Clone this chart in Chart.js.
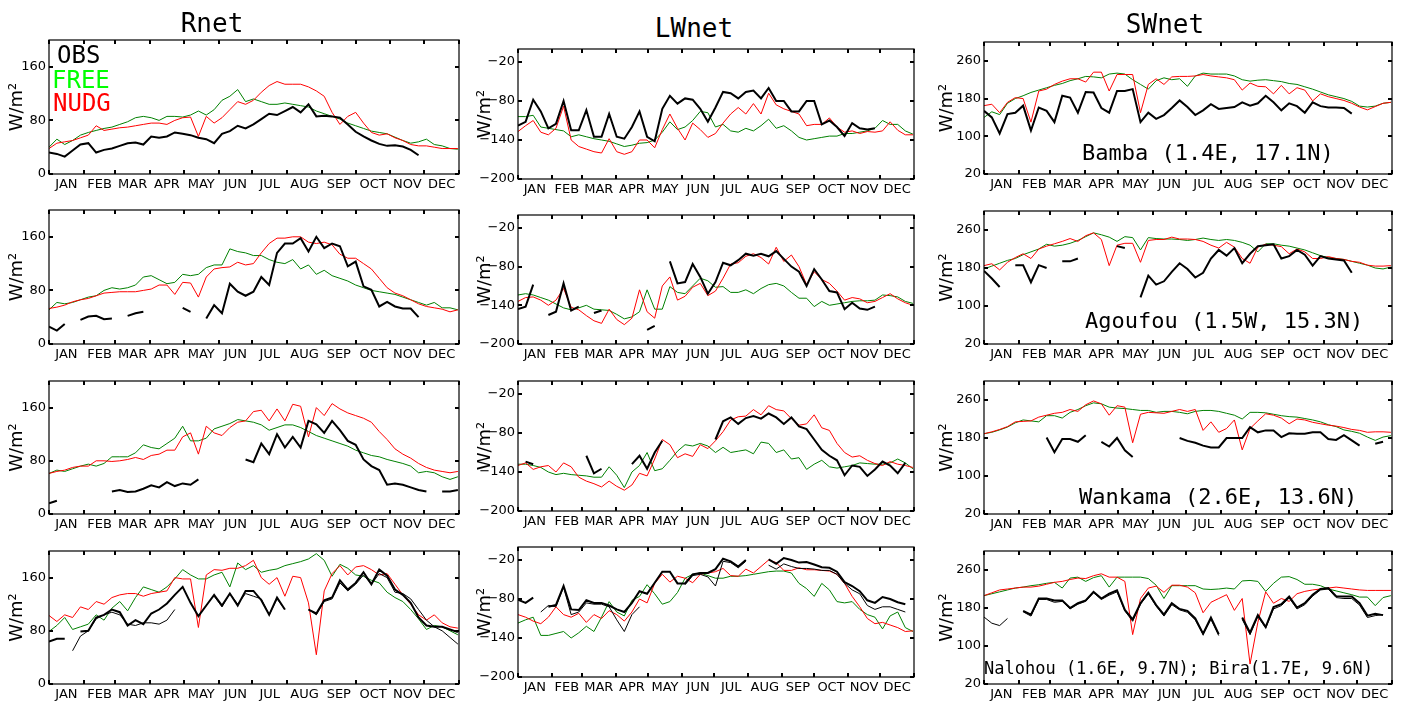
<!DOCTYPE html>
<html lang="en">
<head>
<meta charset="utf-8">
<title>Rnet / LWnet / SWnet</title>
<script src="https://cdn.jsdelivr.net/npm/chart.js"></script>
<style>
  body { margin: 0; background: #fff; width: 1406px; height: 703px; position: relative; overflow: hidden; }
  canvas { position: absolute; }
  .txt { position: absolute; white-space: nowrap; font-family: "DejaVu Sans Mono", monospace; }
</style>
</head>
<body>
<script>
// x positions (day of year) shared by every series, roughly weekly
const days = [0, 7, 14, 21, 28, 35, 42, 49, 56, 63, 70, 77, 84, 91, 98, 105, 112, 119, 126, 133,
  140, 147, 154, 161, 168, 175, 182, 189, 196, 203, 210, 217, 224, 231, 238, 245, 252, 259, 266, 273,
  280, 287, 294, 301, 308, 315, 322, 329, 336, 343, 350, 357, 364];
const monthEdges = [0, 31, 59, 90, 120, 151, 181, 212, 243, 273, 304, 334, 365];
const monthMids = [15.5, 45, 74.5, 105, 135.5, 166, 196.5, 227.5, 258, 288.5, 319, 349.5];
const monthNames = ['JAN', 'FEB', 'MAR', 'APR', 'MAY', 'JUN', 'JUL', 'AUG', 'SEP', 'OCT', 'NOV', 'DEC'];
const rnetTicks = [0, 80, 160];
const lwTicks = [-200, -140, -80, -20];
const swTicks = [20, 100, 180, 260];
const columnTitles = ['Rnet', 'LWnet', 'SWnet'];
const seriesNames = ['OBS', 'FREE', 'NUDG'];
const siteLabels = ['Bamba (1.4E, 17.1N)', 'Agoufou (1.5W, 15.3N)', 'Wankama (2.6E, 13.6N)',
  'Nalohou (1.6E, 9.7N); Bira(1.7E, 9.6N)'];

// ---- Bamba ----
const bambaRnObs = [32, 30, 26, 35, 44, 46, 32, 36, 38, 42, 46, 47, 44, 56, 54, 56, 62, 60, 58, 54,
  52, 46, 60, 64, 72, 68, 74, 82, 90, 88, 94, 100, 92, 104, 86, 87, 86, 84, 74, 63,
  56, 50, 45, 42, 43, 41, 36, 28, null, null, null, null, null];
const bambaRnFree = [40, 52, 44, 50, 58, 62, 65, 68, 70, 74, 78, 84, 86, 84, 80, 86, 86, 85, 88, 94,
  88, 96, 110, 116, 126, 108, 112, 108, 104, 104, 106, 104, 102, 100, 94, 90, 86, 82, 76, 72,
  68, 64, 62, 60, 55, 50, 46, 48, 52, 44, 42, 38, 37];
const bambaRnNudg = [38, 46, 48, 50, 54, 58, 72, 65, 67, 69, 70, 72, 74, 76, 76, 74, 80, 84, 85, 56,
  86, 76, 84, 96, 108, 104, 110, 122, 132, 138, 134, 134, 134, 130, 124, 116, 92, 74, 86, 92,
  76, 62, 58, 60, 54, 50, 44, 42, 42, 40, 38, 38, 38];
const bambaLwObs = [-118, -112, -78, -96, -122, -115, -80, -125, -125, -94, -135, -135, -100, -135, -138, -120, -96, -135, -142, -92,
  -72, -84, -76, -78, -92, -112, -90, -66, -68, -76, -66, -64, -76, -60, -80, -80, -96, -96, -80, -80,
  -116, -110, -120, -134, -114, -122, -124, -122, null, null, null, null, null];
const bambaLwFree = [-104, -104, -102, -120, -122, -124, -126, -135, -132, -135, -138, -140, -142, -146, -150, -148, -145, -144, -140, -128,
  -112, -124, -120, -110, -96, -98, -120, -116, -126, -128, -122, -126, -118, -108, -122, -118, -126, -136, -140, -138,
  -136, -134, -134, -130, -130, -128, -126, -122, -110, -116, -116, -126, -131];
const bambaLwNudg = [-127, -118, -110, -128, -132, -122, -88, -140, -150, -154, -158, -160, -138, -158, -162, -158, -140, -140, -152, -124,
  -100, -122, -140, -114, -124, -136, -130, -114, -100, -90, -100, -84, -100, -68, -86, -92, -96, -100, -118, -116,
  -116, -106, -120, -128, -126, -130, -127, -128, -126, -112, -125, -132, -132];
const bambaSwObs = [154, 140, 106, 147, 150, 165, 112, 161, 154, 130, 186, 182, 150, 194, 193, 160, 150, 196, 196, 200,
  130, 150, 137, 145, 160, 176, 162, 145, 155, 168, 158, 160, 162, 172, 165, 170, 186, 172, 155, 170,
  164, 150, 172, 164, 161, 161, 160, 148, null, null, null, null, null];
const bambaSwFree = [140, 152, 146, 170, 180, 186, 193, 198, 203, 208, 212, 218, 222, 227, 226, 224, 232, 234, 232, 220,
  210, 200, 218, 224, 220, 222, 206, 228, 234, 232, 232, 232, 228, 220, 217, 219, 220, 218, 216, 212,
  210, 205, 200, 194, 188, 184, 180, 174, 164, 162, 164, 170, 172];
const bambaSwNudg = [165, 168, 150, 172, 182, 180, 130, 196, 200, 210, 217, 222, 222, 215, 236, 236, 196, 231, 231, 231,
  150, 210, 222, 210, 226, 227, 227, 228, 231, 228, 226, 224, 220, 198, 213, 206, 205, 190, 208, 190,
  203, 198, 175, 190, 184, 180, 176, 170, 162, 156, 163, 170, 172];

// ---- Agoufou ----
const agoufouRnObs = [26, 20, 30, null, 36, 41, 42, 37, 38, null, 42, 46, 48, null, null, null, null, 54, 48, null,
  38, 58, 46, 90, 78, 72, 78, 100, 88, 136, 150, 150, 158, 138, 160, 143, 150, 146, 116, 123,
  86, 81, 56, 63, 56, 53, 53, 40, null, null, null, null, null];
const agoufouRnFree = [51, 62, 60, 62, 66, 70, 72, 80, 84, 82, 84, 88, 100, 102, 96, 90, 92, 104, 102, 104,
  114, 118, 118, 142, 138, 136, 132, 132, 126, 122, 120, 126, 112, 118, 104, 110, 102, 98, 94, 88,
  84, 80, 78, 76, 74, 70, 66, 62, 58, 62, 54, 54, 51];
const agoufouRnNudg = [53, 55, 58, 63, 66, 68, 72, 76, 77, 78, 78, 78, 80, 82, 88, 88, 74, 92, 91, 70,
  100, 112, 114, 115, 122, 118, 120, 136, 150, 158, 158, 160, 160, 152, 150, 152, 148, 134, 128, 128,
  120, 112, 98, 84, 76, 72, 66, 60, 56, 54, 52, 48, 51];
const agoufouLwObs = [-146, -142, -108, null, -155, -150, -106, -148, -142, null, -152, -148, null, null, null, null, null, -178, -172, null,
  -72, -106, -104, -76, -96, -122, -104, -74, -78, -70, -60, -63, -60, -64, -56, -68, -80, -88, -110, -84,
  -100, -118, -120, -146, -136, -145, -147, -142, null, null, null, null, null];
const agoufouLwFree = [-124, -122, -124, -128, -132, -138, -144, -147, -144, -140, -146, -147, -148, -154, -161, -158, -150, -116, -146, -146,
  -111, -120, -122, -110, -98, -102, -112, -111, -120, -120, -116, -122, -114, -108, -106, -110, -120, -129, -129, -142,
  -134, -140, -138, -136, -134, -133, -133, -132, -124, -125, -127, -134, -137];
const agoufouLwNudg = [-134, -128, -127, -132, -140, -132, -114, -143, -147, -156, -164, -168, -146, -162, -170, -160, -116, -150, -160, -110,
  -96, -132, -126, -112, -106, -125, -118, -98, -76, -74, -64, -60, -66, -76, -50, -72, -62, -80, -108, -88,
  -100, -106, -118, -132, -128, -130, -136, -134, -128, -122, -130, -136, -140];
const agoufouSwObs = [174, 158, 140, null, 186, 186, 150, 186, 180, null, 194, 194, 200, null, null, null, null, 226, 222, null,
  118, 164, 145, 152, 172, 190, 178, 160, 170, 200, 218, 206, 222, 190, 210, 226, 228, 230, 200, 205,
  218, 208, 185, 205, 200, 198, 196, 170, null, null, null, null, null];
const agoufouSwFree = [178, 184, 190, 196, 200, 208, 214, 220, 230, 226, 228, 232, 238, 246, 254, 250, 245, 236, 246, 244,
  218, 244, 242, 241, 241, 240, 238, 240, 243, 240, 238, 240, 238, 234, 228, 214, 231, 231, 228, 226,
  222, 218, 212, 206, 202, 200, 198, 194, 190, 186, 180, 178, 182];
const agoufouSwNudg = [185, 189, 176, 192, 202, 210, 200, 220, 226, 231, 236, 242, 236, 248, 254, 240, 185, 228, 232, 232,
  192, 238, 240, 240, 245, 241, 241, 240, 236, 228, 222, 234, 224, 200, 190, 224, 230, 228, 225, 210,
  220, 214, 200, 200, 204, 200, 198, 194, 192, 186, 184, 184, 185];

// ---- Wankama ----
const wankamaRnObs = [16, 20, null, null, null, null, null, null, 34, 36, 33, 34, 38, 43, 40, 48, 42, 46, 44, 52,
  null, null, null, null, null, 82, 78, 106, 90, 120, 100, 116, 100, 140, 135, 122, 140, 126, 110, 104,
  82, 72, 66, 44, 46, 44, 40, 36, 34, null, 34, 34, 36];
const wankamaRnFree = [61, 66, 64, 68, 72, 75, 72, 76, 86, 86, 86, 92, 104, 100, 98, 106, 114, 132, 110, 110,
  114, 128, 132, 136, 142, 140, 138, 134, 126, 130, 134, 134, 130, 124, 118, 114, 110, 106, 102, 96,
  92, 88, 86, 82, 79, 76, 72, 62, 64, 62, 56, 52, 56];
const wankamaRnNudg = [61, 64, 66, 70, 72, 72, 80, 80, 79, 80, 82, 85, 82, 88, 90, 96, 96, 116, 122, 90,
  132, 122, 118, 130, 138, 140, 154, 156, 140, 158, 140, 165, 162, 116, 160, 148, 166, 158, 152, 148,
  144, 138, 124, 112, 98, 90, 84, 76, 70, 66, 64, 62, 64];
const wankamaLwObs = [null, -124, -128, null, null, null, null, null, null, -115, -142, -135, null, null, null, -128, -115, -135, -110, -92,
  null, null, null, null, null, null, -90, -62, -56, -66, -57, -54, -58, -50, -56, -66, -56, -70, -74, -90,
  -106, -115, -122, -145, -130, -132, -146, -136, -124, -130, -142, -126, null];
const wankamaLwFree = [-128, -128, -130, -133, -140, -144, -142, -144, -145, -146, -148, -148, -132, -145, -164, -140, -130, -110, -138, -135,
  -122, -108, -98, -100, -96, -100, -110, -102, -110, -108, -106, -112, -94, -96, -110, -106, -120, -118, -136, -128,
  -122, -132, -134, -132, -130, -126, -127, -128, -128, -126, -120, -126, -135];
const wankamaLwNudg = [-130, -126, -136, -132, -130, -140, -126, -132, -148, -154, -158, -163, -154, -162, -168, -160, -142, -146, -120, -90,
  -98, -118, -112, -116, -98, -104, -92, -78, -60, -55, -54, -44, -52, -38, -44, -46, -58, -68, -66, -52,
  -72, -76, -96, -110, -117, -115, -122, -127, -130, -124, -128, -130, -133];
const wankamaSwObs = [null, null, null, null, null, null, null, null, 181, 150, 178, 178, 172, 186, null, 172, 162, 180, 154, 140,
  null, null, null, null, null, 180, 174, 170, 164, 160, 160, 180, 180, 180, 203, 192, 196, 196, 182, 190,
  189, 189, 192, 192, 178, 176, 186, 175, 164, null, 168, 172, null];
const wankamaSwFree = [189, 192, 197, 203, 212, 218, 216, 214, 227, 227, 222, 234, 240, 248, 254, 252, 245, 243, 242, 240,
  238, 238, 234, 236, 236, 234, 231, 236, 238, 238, 236, 232, 228, 220, 234, 234, 233, 230, 227, 225,
  224, 221, 218, 214, 208, 204, 197, 194, 190, 182, 175, 182, 185];
const wankamaSwNudg = [189, 193, 198, 204, 214, 215, 216, 224, 228, 232, 234, 240, 236, 250, 258, 252, 228, 248, 245, 170,
  230, 234, 233, 232, 236, 240, 236, 240, 196, 214, 192, 200, 218, 155, 200, 216, 231, 228, 222, 210,
  220, 218, 213, 210, 207, 205, 202, 198, 196, 192, 193, 193, 192];

// ---- Nalohou (thick OBS) / Bira (thin OBS) ----
const nalohouRnObs = [64, 68, 68, null, 79, 80, 100, 104, 112, 108, 88, 96, 90, 106, 112, 121, 134, 146, 122, 102,
  118, 134, 118, 136, 118, 140, 140, 126, 104, 130, 112, null, null, 112, 106, 126, 130, 156, 142, 152,
  168, 150, 172, 163, 142, 134, 122, 100, 88, 86, 86, 82, 78];
const biraRnObs = [null, null, null, 50, 72, 80, 98, 104, 108, 104, 90, 88, 92, 92, 90, 96, 112, null, null, null,
  null, 132, 116, 136, 120, 136, 132, 128, 104, 128, 112, null, null, 112, 104, 124, 128, 152, 140, 150,
  164, 150, 166, 160, 138, 136, 128, 112, 96, 86, 80, 70, 60];
const nalohouRnFree = [79, 88, 100, 82, 86, 90, 104, 96, 114, 124, 110, 130, 146, 142, 138, 146, 158, 172, 164, 158,
  158, 164, 168, 146, 182, 172, 178, 168, 171, 173, 178, 181, 184, 188, 196, 186, 162, 180, 174, 164,
  162, 156, 152, 138, 130, 124, 112, 98, 82, 88, 86, 80, 74];
const nalohouRnNudg = [103, 94, 104, 100, 116, 112, 124, 120, 130, 134, 136, 136, 132, 136, 138, 140, 160, 158, 158, 85,
  164, 172, 171, 174, 174, 178, 186, 160, 150, 160, 132, 162, 160, 122, 44, 140, 166, 178, 164, 176,
  178, 172, 164, 166, 150, 134, 120, 104, 96, 104, 92, 86, 84];
const nalohouLwObs = [-81, -86, -78, null, -92, -89, -60, -96, -97, -82, -86, -86, -90, -96, -100, -86, -68, -72, -55, -38,
  -38, -56, -56, -42, -40, -40, -34, -18, -22, -30, -20, null, null, -19, -26, -17, -20, -24, -23, -27,
  -31, -32, -38, -54, -60, -68, -82, -86, -77, -80, -85, -88, null];
const biraLwObs = [null, null, null, -100, -90, -92, -62, -104, -100, -86, -88, -88, -92, -112, -130, -104, -92, null, null, null,
  null, null, -58, -44, -42, -46, -60, -22, -24, -32, -22, null, null, -28, -34, -26, -30, -33, -33, -34,
  -36, -36, -42, -56, -66, -72, -90, -96, -92, -92, -96, -100, null];
const nalohouLwFree = [-117, -112, -108, -136, -136, -133, -130, -140, -132, -122, -130, -108, -84, -100, -106, -82, -76, -58, -72, -88,
  -84, -70, -48, -42, -40, -44, -48, -48, -45, -45, -44, -42, -40, -38, -37, -37, -40, -56, -64, -76,
  -56, -66, -84, -86, -84, -96, -104, -108, -126, -106, -100, -124, -130];
const nalohouLwNudg = [-104, -108, -114, -118, -108, -92, -104, -108, -102, -116, -104, -110, -98, -104, -114, -100, -80, -86, -56, -42,
  -54, -45, -48, -55, -42, -40, -38, -33, -44, -45, -34, -40, -30, -20, -24, -36, -36, -32, -35, -35,
  -36, -37, -42, -56, -76, -92, -110, -118, -116, -120, -124, -130, -129];
const nalohouSwObs = [null, null, null, null, null, 174, 166, 200, 200, 196, 196, 180, 190, 196, 214, 200, 210, 217, 176, 156,
  190, 212, 186, 166, 190, 178, 174, 158, 126, 160, 125, null, null, 160, 128, 165, 140, 182, 188, 204,
  181, 190, 208, 220, 222, 205, 204, 204, 190, 164, 168, 165, null];
const biraSwObs = [161, 148, 143, 158, null, 172, 163, 198, 198, 192, 194, 178, 188, 194, 212, 198, 207, 214, 174, 152,
  188, 210, 184, 163, 187, 176, 171, 155, 124, 156, 122, null, null, 156, 124, 162, 138, 178, 185, 201,
  178, 187, 205, 218, 220, 202, 200, 200, 186, 160, 164, 166, null];
const nalohouSwFree = [206, 210, 214, 218, 222, 224, 227, 229, 232, 234, 222, 243, 245, 236, 244, 248, 224, 245, 245, 245,
  245, 242, 228, 200, 227, 227, 227, 227, 220, 219, 220, 222, 220, 237, 238, 236, 215, 232, 245, 246,
  240, 230, 230, 227, 220, 216, 212, 208, 203, 203, 185, 202, 206];
const nalohouSwNudg = [206, 212, 218, 220, 222, 224, 224, 226, 230, 234, 236, 240, 243, 242, 248, 252, 245, 245, 236, 124,
  200, 222, 226, 213, 228, 228, 224, 212, 170, 192, 200, 208, 175, 200, 62, 150, 214, 190, 200, 194,
  210, 215, 218, 220, 222, 224, 222, 220, 218, 217, 217, 217, 217];

// layout: plot area of each column / row in page pixels
const colX = [[49, 459], [518, 914], [984, 1392]];
const rowY = [
  [[40, 174], [210, 344], [381, 514], [551, 684]],
  [[49, 179], [215, 344], [381, 511], [547, 677]],
  [[42, 174], [211, 344], [381, 514], [551, 684]]
];
const colY = [
  {min: 0, max: 200, ticks: rnetTicks, titlePad: 6},
  {min: -200, max: 0, ticks: lwTicks, titlePad: 5},
  {min: 20, max: 300, ticks: swTicks, titlePad: 1}
];

const panels = [
  [bambaRnObs, null, bambaRnFree, bambaRnNudg], [bambaLwObs, null, bambaLwFree, bambaLwNudg], [bambaSwObs, null, bambaSwFree, bambaSwNudg],
  [agoufouRnObs, null, agoufouRnFree, agoufouRnNudg], [agoufouLwObs, null, agoufouLwFree, agoufouLwNudg], [agoufouSwObs, null, agoufouSwFree, agoufouSwNudg],
  [wankamaRnObs, null, wankamaRnFree, wankamaRnNudg], [wankamaLwObs, null, wankamaLwFree, wankamaLwNudg], [wankamaSwObs, null, wankamaSwFree, wankamaSwNudg],
  [nalohouRnObs, biraRnObs, nalohouRnFree, nalohouRnNudg], [nalohouLwObs, biraLwObs, nalohouLwFree, nalohouLwNudg], [nalohouSwObs, biraSwObs, nalohouSwFree, nalohouSwNudg]
];

// inward tick marks and the box around each plot
const frame = {
  id: 'frame',
  afterDraw(chart) {
    const {ctx, chartArea: a, scales: {x, y}} = chart;
    ctx.save();
    ctx.strokeStyle = '#000';
    ctx.lineWidth = 2;
    ctx.beginPath();
    monthEdges.forEach(d => {
      const px = Math.round(x.getPixelForValue(d));
      ctx.moveTo(px, a.top); ctx.lineTo(px, a.top + 4);
      ctx.moveTo(px, a.bottom); ctx.lineTo(px, a.bottom - 4);
    });
    y.ticks.forEach(t => {
      const py = Math.round(y.getPixelForValue(t.value));
      ctx.moveTo(a.left, py); ctx.lineTo(a.left + 4, py);
      ctx.moveTo(a.right, py); ctx.lineTo(a.right - 4, py);
    });
    ctx.stroke();
    ctx.lineWidth = 1.2;
    ctx.strokeRect(a.left, a.top, a.right - a.left, a.bottom - a.top);
    ctx.restore();
  }
};

const pts = vals => vals.map((v, i) => ({x: days[i], y: v}));
const tickFont = {family: 'DejaVu Sans', size: 13};

panels.forEach((p, idx) => {
  const col = idx % 3, row = Math.floor(idx / 3);
  const [pl, pr] = colX[col];
  const [pt, pb] = rowY[col][row];
  const cy = colY[col];
  const cv = document.createElement('canvas');
  cv.width = pr - pl + 58;
  cv.height = pb - pt + 30;
  cv.style.left = (pl - 48) + 'px';
  cv.style.top = (pt - 6) + 'px';
  document.body.appendChild(cv);

  const datasets = [
    {label: seriesNames[0], data: pts(p[0]), borderColor: '#000', borderWidth: 2},
  ];
  if (p[1]) datasets.push({label: seriesNames[0], data: pts(p[1]), borderColor: '#000', borderWidth: 1});
  datasets.push({label: seriesNames[2], data: pts(p[3]), borderColor: '#ff0000', borderWidth: 1});
  datasets.push({label: seriesNames[1], data: pts(p[2]), borderColor: '#008000', borderWidth: 1});

  new Chart(cv, {
    type: 'line',
    data: {datasets: datasets},
    options: {
      responsive: false,
      animation: false,
      layout: {padding: {top: 6, right: 10, left: 0, bottom: 0}},
      plugins: {legend: {display: false}, tooltip: {enabled: false}},
      elements: {point: {radius: 0}, line: {tension: 0}},
      scales: {
        x: {
          type: 'linear', min: 0, max: 365,
          grid: {display: false, drawTicks: false}, border: {display: false},
          afterBuildTicks: s => { s.ticks = monthMids.map(v => ({value: v})); },
          afterFit: s => { s.height = 24; s.paddingLeft = 0; s.paddingRight = 0; },
          ticks: {autoSkip: false, maxRotation: 0, padding: 3, color: '#000', font: tickFont,
            callback: (v, i) => monthNames[i]}
        },
        y: {
          min: cy.min, max: cy.max,
          grid: {display: false, drawTicks: false}, border: {display: false},
          afterBuildTicks: s => { s.ticks = cy.ticks.map(v => ({value: v})); },
          afterFit: s => { s.width = 48; s.paddingTop = 0; s.paddingBottom = 0; },
          ticks: {padding: 3, color: '#000', font: tickFont,
            callback: v => String(v).replace('-', '\u2212')},
          title: {display: true, text: 'W/m\u00b2', color: '#000',
            font: {family: 'DejaVu Sans', size: 18}, padding: {top: cy.titlePad, bottom: 0}}
        }
      }
    },
    plugins: [frame]
  });
});

// text: column titles, legend, site names
function addText(str, left, top, size, color, center) {
  const d = document.createElement('div');
  d.className = 'txt';
  d.textContent = str;
  d.style.left = left + 'px';
  d.style.top = top + 'px';
  d.style.fontSize = size + 'px';
  d.style.lineHeight = size + 'px';
  d.style.color = color;
  if (center) d.style.transform = 'translateX(-50%)';
  document.body.appendChild(d);
}
addText(columnTitles[0], 212, 10, 26, '#000', true);
addText(columnTitles[1], 694, 15, 26, '#000', true);
addText(columnTitles[2], 1165, 11, 26, '#000', true);
addText(seriesNames[0], 57, 43, 24, '#000');
addText(seriesNames[1], 52, 68, 24, '#00ff00');
addText(seriesNames[2], 53, 91, 24, '#ff0000');
addText(siteLabels[0], 1082, 142, 22, '#000');
addText(siteLabels[1], 1085, 310, 22, '#000');
addText(siteLabels[2], 1079, 486, 22, '#000');
addText(siteLabels[3], 984, 660, 17, '#000');
</script>
</body>
</html>
